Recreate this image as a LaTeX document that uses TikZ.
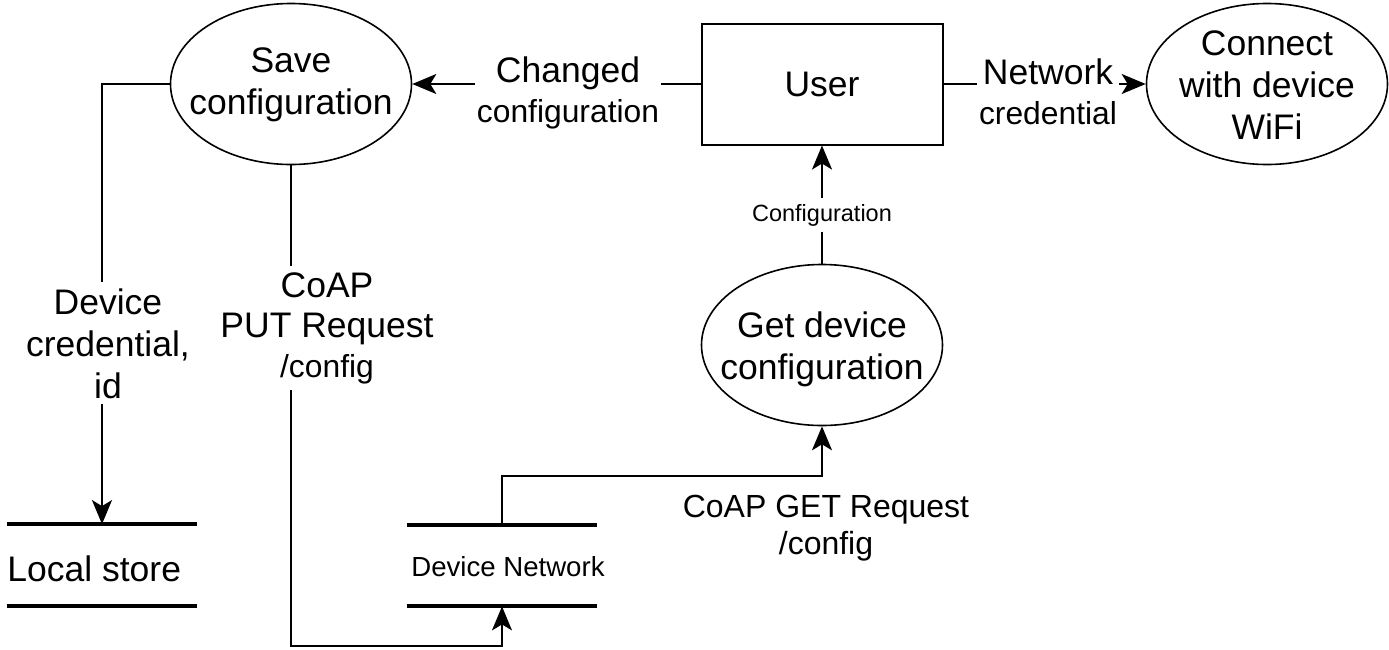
\documentclass[tikz,border=0pt]{standalone}
\usepackage{fontspec}
\setmainfont{Liberation Sans}
\usetikzlibrary{shapes.geometric,arrows.meta}
\newcommand\fsMain{\fontsize{17.75}{21}\selectfont}
\newcommand\fsLbl{\fontsize{17.75}{20}\selectfont}
\newcommand\fsSub{\fontsize{15.9}{20}\selectfont}
\newcommand\fsSmall{\fontsize{11.75}{14}\selectfont}
\newcommand\fsNet{\fontsize{13.8}{16}\selectfont}
\newcommand\fsGet{\fontsize{16}{18.5}\selectfont}
\begin{document}
\begin{tikzpicture}[x=0.5pt,y=-0.5pt,
  proc/.style={ellipse, draw, line width=0.8pt, minimum width=120.5pt, minimum height=80.5pt, inner sep=0pt},
  entity/.style={rectangle, draw, line width=1pt, minimum width=120.5pt, minimum height=60.5pt, font=\fsMain},
  storebox/.style={minimum width=95pt, minimum height=40.5pt, inner sep=0pt},
  storeline/.style={line width=2pt},
  txt/.style={align=center, inner sep=0pt, anchor=north, font=\fsMain},
  lbl/.style={fill=white, align=center, inner xsep=1pt, inner ysep=3pt, anchor=north, font=\fsLbl},
  flow/.style={line width=1pt, -{Stealth[length=12pt 0,width=10pt 0,inset=3pt 0]}},
  plainflow/.style={line width=1pt}]
\useasboundingbox (0,0) rectangle (1389,649);

% processes and entities
\node[proc] (save) at (291,84) {};
\node[txt] (savetxt) at (291,47) {Save\\configuration};
\node[proc] (connect) at (1267,84) {};
\node[txt] (connecttxt) at (1267,30) {Connect\\with device\\WiFi};
\node[proc] (getdev) at (822,345) {};
\node[txt] (getdevtxt) at (822,311) {Get device\\configuration};
\node[entity] (user) at (822,84) {User};

% data stores
\node[storebox] (local) at (102,565) {};
\node[font=\fsMain, inner sep=0pt, anchor=west] (localtxt) at (7,569) {Local store};
\draw[storeline] (local.north west) -- (local.north east);
\draw[storeline] (local.south west) -- (local.south east);
\node[storebox] (devnet) at (502,565.5) {};
\node[font=\fsNet, inner sep=0pt] (devnettxt) at (508,567) {Device Network};
\draw[storeline] (devnet.north west) -- (devnet.north east);
\draw[storeline] (devnet.south west) -- (devnet.south east);

% helper coordinates
\coordinate (putc) at (291,646);
\coordinate (getc) at (822,476);

% connectors
\draw[flow] (user.west) -- (save.east);
\draw[flow] (user.east) -- (connect.west);
\draw[flow] (getdev.north) -- (user.south);
\draw[flow] (save.west) -| (local.north);
\draw[flow] (save.south) -- (putc) -| (devnet.south);
\draw[flow] (devnet.north) |- (getc) -- (getdev.south);

% connector labels
\node[lbl] (lchanged) at (568,50) {Changed\\{\fsSub configuration}};
\node[lbl] (lnet) at (1048,52) {Network\\{\fsSub credential}};
\node[lbl, font=\fsSmall] (lconf) at (822,198) {Configuration};
\node[lbl, font=\fsMain] (ldev) at (108,282) {Device\\credential,\\id};
\node[lbl, font=\fsLbl] (lput) at (327,266) {CoAP\\PUT Request\\{\fsSub /config}};
\node[txt, font=\fsGet] (lget) at (826,495) {CoAP GET Request\\/config};
\end{tikzpicture}
\end{document}
